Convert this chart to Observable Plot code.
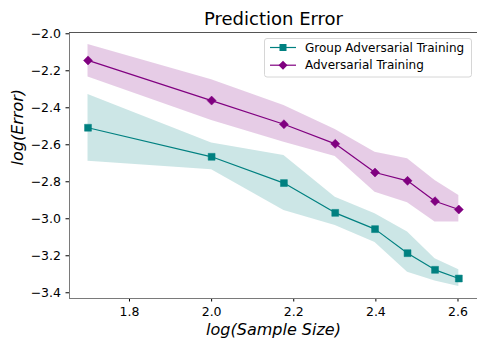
<!DOCTYPE html>
<html>
<head>
<meta charset="utf-8">
<script src="https://cdn.jsdelivr.net/npm/d3@7"></script>
<script src="https://cdn.jsdelivr.net/npm/@observablehq/plot@0.6"></script>
<style>
  html, body { margin: 0; padding: 0; background: #fff; }
</style>
</head>
<body>
<div id="chart"></div>
<script>
// log10 of sample sizes 50..400
const sampleLog = [1.69897, 2.0, 2.17609, 2.30103, 2.39794, 2.47712, 2.54407, 2.60206];

const gatMean  = [-2.508, -2.665, -2.807, -2.968, -3.056, -3.186, -3.276, -3.323];
const gatUpper = [-2.328, -2.591, -2.658, -2.883, -2.973, -3.072, -3.216, -3.276];
const gatLower = [-2.689, -2.735, -2.955, -3.036, -3.128, -3.289, -3.337, -3.366];

const atMean   = [-2.144, -2.361, -2.489, -2.595, -2.750, -2.795, -2.905, -2.950];
const atUpper  = [-2.058, -2.249, -2.388, -2.517, -2.640, -2.676, -2.793, -2.874];
const atLower  = [-2.234, -2.469, -2.586, -2.663, -2.856, -2.914, -3.018, -3.018];

const seriesNames = ["Group Adversarial Training", "Adversarial Training"];
const seriesColors = ["#008080", "#800080"];

const xTicks = [1.8, 2.0, 2.2, 2.4, 2.6];
const yTicks = [-2.0, -2.2, -2.4, -2.6, -2.8, -3.0, -3.2, -3.4];

const titleText = "Prediction Error";
const xLabel = "log(Sample Size)";
const yLabel = "log(Error)";

const gat = sampleLog.map((x, i) => ({x, y: gatMean[i], lo: gatLower[i], hi: gatUpper[i]}));
const at  = sampleLog.map((x, i) => ({x, y: atMean[i], lo: atLower[i], hi: atUpper[i]}));

const diamond = {
  draw(ctx, size) {
    const h = Math.sqrt(size / 2);
    ctx.moveTo(0, -h); ctx.lineTo(h, 0); ctx.lineTo(0, h); ctx.lineTo(-h, 0); ctx.closePath();
  }
};

const xDom = [1.6539, 2.6475];
const yDom = [-3.431, -1.993];

const spine = "#7a7a7a";

const chart = Plot.plot({
  width: 477,
  height: 339,
  marginLeft: 69,
  marginRight: 0,
  marginTop: 32,
  marginBottom: 41,
  style: {fontFamily: "DejaVu Sans, sans-serif", fontSize: "12.5px", color: "#000", background: "#fff"},
  x: {domain: xDom},
  y: {domain: yDom},
  marks: [
    Plot.areaY(gat, {x: "x", y1: "lo", y2: "hi", fill: seriesColors[0], fillOpacity: 0.2}),
    Plot.areaY(at,  {x: "x", y1: "lo", y2: "hi", fill: seriesColors[1], fillOpacity: 0.2}),
    Plot.line(gat, {x: "x", y: "y", stroke: seriesColors[0], strokeWidth: 1.2}),
    Plot.dot(gat, {x: "x", y: "y", symbol: "square", r: 3.9, fill: seriesColors[0], stroke: seriesColors[0], strokeWidth: 0.5}),
    Plot.line(at, {x: "x", y: "y", stroke: seriesColors[1], strokeWidth: 1.2}),
    Plot.dot(at, {x: "x", y: "y", symbol: diamond, r: 3.6, fill: seriesColors[1], stroke: seriesColors[1], strokeWidth: 0.5}),
    Plot.axisX({ticks: xTicks, tickFormat: d3.format(".1f"), tickSize: 3.5, tickPadding: 5, label: null}),
    Plot.axisY({ticks: yTicks, tickFormat: d3.format(".1f"), tickSize: 3.5, tickPadding: 5, label: null}),
    Plot.ruleX([xDom[0]], {stroke: spine, strokeWidth: 1}),
    Plot.ruleY([yDom[0]], {stroke: spine, strokeWidth: 1}),
    Plot.ruleY([yDom[1]], {stroke: "#555", strokeWidth: 1}),
    Plot.text([titleText], {frameAnchor: "top", lineAnchor: "middle", dy: -13, fontSize: 18, fill: "#000"}),
    Plot.text([xLabel], {frameAnchor: "bottom", lineAnchor: "middle", dy: 31, fontSize: 16, fontStyle: "italic", fill: "#000"}),
    Plot.text([yLabel], {frameAnchor: "left", lineAnchor: "middle", dx: -52, rotate: -90, fontSize: 16, fontStyle: "italic", fill: "#000"})
  ]
});

document.getElementById("chart").appendChild(chart);

// legend (drawn inside the SVG, upper right)
const svg = d3.select(chart);
const lg = svg.append("g").attr("font-family", "DejaVu Sans, sans-serif").attr("font-size", 12)
  .attr("text-anchor", "start");
lg.append("rect").attr("x", 264.5).attr("y", 38.5).attr("width", 207).attr("height", 38.5)
  .attr("rx", 2.5).attr("fill", "#fff").attr("fill-opacity", 0.8).attr("stroke", "#d6d6d6");
seriesNames.forEach((name, i) => {
  const cy = 47.5 + i * 17.7;
  lg.append("line").attr("x1", 270).attr("x2", 296).attr("y1", cy).attr("y2", cy)
    .attr("stroke", seriesColors[i]).attr("stroke-width", 1.2);
  if (i === 0) {
    lg.append("rect").attr("x", 283 - 3.5).attr("y", cy - 3.5).attr("width", 7).attr("height", 7)
      .attr("fill", seriesColors[i]);
  } else {
    lg.append("path").attr("d", `M283,${cy - 4.5}L287.5,${cy}L283,${cy + 4.5}L278.5,${cy}Z`)
      .attr("fill", seriesColors[i]);
  }
  lg.append("text").attr("x", 305).attr("y", cy).attr("dy", "0.35em").attr("text-anchor", "start")
    .attr("fill", "#000").text(name);
});
</script>
</body>
</html>
